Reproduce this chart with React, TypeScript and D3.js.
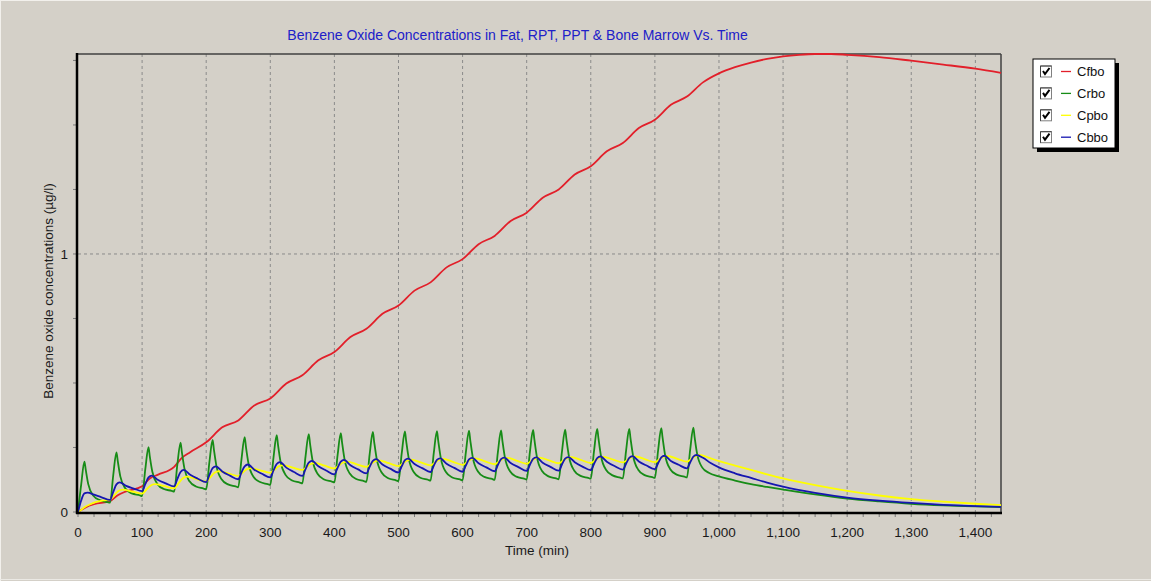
import React from "react";
import * as d3 from "d3";

const W = 1151;
const H = 581;

const TITLE = "Benzene Oxide Concentrations in Fat, RPT, PPT & Bone Marrow Vs. Time";
const X_LABEL = "Time (min)";
const Y_LABEL = "Benzene oxide concentrations (µg/l)";

const X_MAX = 1440;
const Y_MAX = 1.775;
const xLabelTicks = [0, 100, 200, 300, 400, 500, 600, 700, 800, 900, 1000, 1100, 1200, 1300, 1400];
const yLabelTicks = [0, 1];
const xMinorStep = 25;
const yMinorStep = 0.25;

type Pt = [number, number];

// Fat
const cfbo: Pt[] = [
  [0, 0], [12, 0.018], [25, 0.03], [50, 0.042], [62, 0.065], [75, 0.08], [100, 0.1], [112, 0.13],
  [125, 0.145], [150, 0.175], [162, 0.21], [175, 0.232], [200, 0.27], [225, 0.328], [250, 0.355],
  [275, 0.413], [300, 0.44], [325, 0.498], [350, 0.53], [375, 0.588], [400, 0.62], [425, 0.678],
  [450, 0.71], [475, 0.768], [500, 0.8], [525, 0.858], [550, 0.89], [575, 0.948], [600, 0.98],
  [625, 1.038], [650, 1.07], [675, 1.128], [700, 1.16], [725, 1.218], [750, 1.25], [775, 1.308],
  [800, 1.34], [825, 1.398], [850, 1.43], [875, 1.488], [900, 1.52], [925, 1.578], [950, 1.61],
  [975, 1.665], [1000, 1.7], [1025, 1.724], [1050, 1.742], [1075, 1.756], [1100, 1.766],
  [1125, 1.772], [1150, 1.775], [1175, 1.775], [1200, 1.772], [1250, 1.763], [1300, 1.749],
  [1350, 1.734], [1400, 1.718], [1440, 1.702],
];

// Richly perfused tissue
const crbo: Pt[] = [
  [0, 0], [5, 0.107], [10, 0.195], [12, 0.165], [16, 0.108], [24, 0.063], [34, 0.046], [46, 0.038],
  [50, 0.036], [55, 0.143], [60, 0.231], [62, 0.198], [66, 0.138], [74, 0.091], [84, 0.072], [96, 0.065],
  [100, 0.062], [105, 0.166], [110, 0.251], [112, 0.216], [116, 0.156], [124, 0.108], [134, 0.089], [146, 0.082],
  [150, 0.079], [155, 0.184], [160, 0.269], [162, 0.233], [166, 0.169], [174, 0.119], [184, 0.099], [196, 0.091],
  [200, 0.088], [205, 0.193], [210, 0.279], [212, 0.243], [216, 0.178], [224, 0.127], [234, 0.107], [246, 0.099],
  [250, 0.096], [255, 0.203], [260, 0.29], [262, 0.253], [266, 0.188], [274, 0.136], [284, 0.116], [296, 0.108],
  [300, 0.105], [305, 0.211], [310, 0.298], [312, 0.261], [316, 0.195], [324, 0.143], [334, 0.122], [346, 0.114],
  [350, 0.111], [355, 0.216], [360, 0.302], [362, 0.265], [366, 0.199], [374, 0.147], [384, 0.126], [396, 0.118],
  [400, 0.115], [405, 0.22], [410, 0.306], [412, 0.269], [416, 0.202], [424, 0.149], [434, 0.128], [446, 0.12],
  [450, 0.117], [455, 0.223], [460, 0.31], [462, 0.273], [466, 0.206], [474, 0.152], [484, 0.131], [496, 0.123],
  [500, 0.12], [505, 0.226], [510, 0.312], [512, 0.275], [516, 0.208], [524, 0.154], [534, 0.133], [546, 0.125],
  [550, 0.122], [555, 0.227], [560, 0.313], [562, 0.276], [566, 0.209], [574, 0.155], [584, 0.134], [596, 0.126],
  [600, 0.123], [605, 0.229], [610, 0.315], [612, 0.278], [616, 0.211], [624, 0.157], [634, 0.136], [646, 0.128],
  [650, 0.125], [655, 0.23], [660, 0.316], [662, 0.279], [666, 0.212], [674, 0.158], [684, 0.137], [696, 0.129],
  [700, 0.126], [705, 0.232], [710, 0.318], [712, 0.281], [716, 0.213], [724, 0.159], [734, 0.138], [746, 0.13],
  [750, 0.127], [755, 0.233], [760, 0.319], [762, 0.282], [766, 0.215], [774, 0.161], [784, 0.14], [796, 0.132],
  [800, 0.129], [805, 0.235], [810, 0.322], [812, 0.285], [816, 0.216], [824, 0.163], [834, 0.142], [846, 0.133],
  [850, 0.13], [855, 0.236], [860, 0.322], [862, 0.285], [866, 0.218], [874, 0.164], [884, 0.143], [896, 0.135],
  [900, 0.132], [905, 0.238], [910, 0.325], [912, 0.288], [916, 0.22], [924, 0.166], [934, 0.145], [946, 0.137],
  [950, 0.134], [955, 0.24], [960, 0.327], [962, 0.29], [966, 0.224], [974, 0.172], [984, 0.152], [1000, 0.138],
  [1025, 0.122], [1050, 0.108], [1075, 0.097], [1100, 0.087], [1150, 0.068], [1200, 0.052],
  [1250, 0.041], [1300, 0.032], [1350, 0.026], [1400, 0.022], [1440, 0.019],
];

// Poorly perfused tissue
const cpbo: Pt[] = [
  [0, 0], [5, 0.008], [10, 0.018], [20, 0.031], [30, 0.04], [40, 0.045],
  [50, 0.048], [57, 0.066], [63, 0.081], [70, 0.087], [85, 0.079],
  [100, 0.071], [107, 0.088], [113, 0.102], [120, 0.108], [135, 0.1],
  [150, 0.092], [157, 0.112], [163, 0.13], [170, 0.137], [185, 0.1275],
  [200, 0.118], [207, 0.136], [213, 0.152], [220, 0.158], [235, 0.149],
  [250, 0.14], [257, 0.153], [263, 0.165], [270, 0.169], [285, 0.1605],
  [300, 0.152], [307, 0.165], [313, 0.177], [320, 0.181], [335, 0.172],
  [350, 0.163], [357, 0.175], [363, 0.186], [370, 0.19], [385, 0.1795],
  [400, 0.169], [407, 0.181], [413, 0.191], [420, 0.195], [435, 0.185],
  [450, 0.175], [457, 0.186], [463, 0.196], [470, 0.2], [485, 0.189],
  [500, 0.178], [507, 0.189], [513, 0.199], [520, 0.203], [535, 0.192],
  [550, 0.181], [557, 0.192], [563, 0.202], [570, 0.206], [585, 0.1945],
  [600, 0.183], [607, 0.194], [613, 0.204], [620, 0.208], [635, 0.1965],
  [650, 0.185], [657, 0.196], [663, 0.206], [670, 0.21], [685, 0.1985],
  [700, 0.187], [707, 0.198], [713, 0.207], [720, 0.211], [735, 0.2],
  [750, 0.189], [757, 0.2], [763, 0.209], [770, 0.213], [785, 0.2015],
  [800, 0.19], [807, 0.201], [813, 0.21], [820, 0.214], [835, 0.203],
  [850, 0.192], [857, 0.202], [863, 0.212], [870, 0.215], [885, 0.204],
  [900, 0.193], [907, 0.204], [913, 0.213], [920, 0.217], [935, 0.206],
  [950, 0.195], [957, 0.206], [963, 0.216], [970, 0.221], [985, 0.21],
  [1000, 0.197], [1025, 0.18], [1050, 0.163], [1075, 0.146], [1100, 0.13], [1150, 0.104],
  [1200, 0.082], [1250, 0.064], [1300, 0.05], [1350, 0.04], [1400, 0.032], [1440, 0.027],
];

// Bone marrow
const cbbo: Pt[] = [
  [0, 0], [5, 0.045], [10, 0.072], [15, 0.075], [25, 0.067], [37, 0.057],
  [50, 0.047], [55, 0.078], [60, 0.107], [65, 0.115], [75, 0.101], [87, 0.091],
  [100, 0.081], [105, 0.108], [110, 0.134], [115, 0.141], [125, 0.124], [137, 0.111],
  [150, 0.099], [155, 0.128], [160, 0.155], [165, 0.163], [175, 0.144], [187, 0.129],
  [200, 0.116], [205, 0.143], [210, 0.17], [215, 0.177], [225, 0.157], [237, 0.141],
  [250, 0.127], [255, 0.153], [260, 0.177], [265, 0.184], [275, 0.164], [287, 0.148],
  [300, 0.134], [305, 0.161], [310, 0.186], [315, 0.193], [325, 0.172], [337, 0.155],
  [350, 0.14], [355, 0.166], [360, 0.191], [365, 0.198], [375, 0.177], [387, 0.161],
  [400, 0.146], [405, 0.171], [410, 0.195], [415, 0.202], [425, 0.181], [437, 0.165],
  [450, 0.15], [455, 0.175], [460, 0.198], [465, 0.205], [475, 0.184], [487, 0.168],
  [500, 0.153], [505, 0.177], [510, 0.201], [515, 0.207], [525, 0.186], [537, 0.17],
  [550, 0.155], [555, 0.179], [560, 0.202], [565, 0.208], [575, 0.187], [587, 0.171],
  [600, 0.156], [605, 0.18], [610, 0.204], [615, 0.21], [625, 0.189], [637, 0.173],
  [650, 0.158], [655, 0.182], [660, 0.205], [665, 0.211], [675, 0.19], [687, 0.174],
  [700, 0.159], [705, 0.183], [710, 0.206], [715, 0.212], [725, 0.191], [737, 0.175],
  [750, 0.16], [755, 0.184], [760, 0.207], [765, 0.213], [775, 0.193], [787, 0.176],
  [800, 0.162], [805, 0.186], [810, 0.209], [815, 0.215], [825, 0.195], [837, 0.178],
  [850, 0.164], [855, 0.187], [860, 0.21], [865, 0.216], [875, 0.196], [887, 0.18],
  [900, 0.166], [905, 0.189], [910, 0.212], [915, 0.218], [925, 0.198], [937, 0.183],
  [950, 0.169], [955, 0.192], [960, 0.215], [965, 0.221], [975, 0.21], [987, 0.19],
  [1000, 0.173], [1025, 0.15], [1050, 0.132], [1075, 0.114], [1100, 0.098], [1150, 0.074],
  [1200, 0.056], [1250, 0.044], [1300, 0.035], [1350, 0.028], [1400, 0.023], [1440, 0.02],
];

const seriesNames = ["Cfbo", "Crbo", "Cpbo", "Cbbo"];
const seriesData = [cfbo, crbo, cpbo, cbbo];
const seriesColors = ["#e21f2a", "#178c17", "#ffff00", "#1616b0"];

const FONT = "'Liberation Sans', Arial, Helvetica, sans-serif";
const BG = "#d4d0c8";

const plot = { left: 78, right: 1001, top: 54, bottom: 512 };

export default function App() {
  const x = d3.scaleLinear().domain([0, X_MAX]).range([plot.left, plot.right]);
  const y = d3.scaleLinear().domain([0, Y_MAX]).range([plot.bottom, plot.top]);

  const line = d3
    .line<Pt>()
    .x((d) => x(d[0]))
    .y((d) => y(d[1]))
    .curve(d3.curveMonotoneX);

  const fmt = d3.format(",");
  const xMinor = d3.range(0, X_MAX + 0.001, xMinorStep);
  const yMinor = d3.range(0, Y_MAX, yMinorStep);

  const legend = { x: 1033, y: 59, w: 82, h: 89, row0: 71.5, rowStep: 21.9 };

  return (
    <svg
      width={W}
      height={H}
      viewBox={`0 0 ${W} ${H}`}
      style={{ position: "absolute", left: 0, top: 0, display: "block" }}
      fontFamily={FONT}
    >
      <defs>
        <clipPath id="plot-clip">
          <rect x={plot.left} y={plot.top - 2} width={plot.right - plot.left + 1} height={plot.bottom - plot.top + 2} />
        </clipPath>
      </defs>

      <rect x={0} y={0} width={W} height={H} fill={BG} />
      <line x1={0} y1={0.5} x2={W} y2={0.5} stroke="#f2f0ec" />
      <line x1={0.5} y1={0} x2={0.5} y2={H} stroke="#f2f0ec" />
      <line x1={0} y1={H - 1.5} x2={W} y2={H - 1.5} stroke="#ebe9e4" />

      {/* title */}
      <text x={517.5} y={40} textAnchor="middle" fontSize={14} fill="#2020c8">
        {TITLE}
      </text>

      {/* vertical grid */}
      {xLabelTicks
        .filter((t) => t > 0)
        .map((t) => (
          <line
            key={`gx${t}`}
            x1={x(t)}
            x2={x(t)}
            y1={plot.top}
            y2={plot.bottom}
            stroke="#8a8a8a"
            strokeWidth={1}
            strokeDasharray="3,3"
          />
        ))}
      {/* horizontal grid */}
      {yLabelTicks
        .filter((t) => t > 0)
        .map((t) => (
          <line
            key={`gy${t}`}
            x1={plot.left}
            x2={plot.right}
            y1={y(t)}
            y2={y(t)}
            stroke="#8a8a8a"
            strokeWidth={1}
            strokeDasharray="3,3"
          />
        ))}

      {/* frame */}
      <line x1={plot.left} x2={plot.right} y1={plot.top} y2={plot.top} stroke="#404040" strokeWidth={1.5} />
      <line x1={plot.right} x2={plot.right} y1={plot.top} y2={plot.bottom} stroke="#404040" strokeWidth={1.5} />

      {/* minor ticks */}
      {xMinor.map((t) => (
        <line key={`tx${t}`} x1={x(t)} x2={x(t)} y1={plot.bottom + 1} y2={plot.bottom + 5} stroke="#7a7a7a" />
      ))}
      {yMinor.map((t) => (
        <line key={`ty${t}`} x1={plot.left - 5} x2={plot.left - 1} y1={y(t)} y2={y(t)} stroke="#7a7a7a" />
      ))}

      {/* series */}
      <g clipPath="url(#plot-clip)">
        {seriesData.map((data, i) => (
          <path
            key={seriesNames[i]}
            d={line(data) || ""}
            fill="none"
            stroke={seriesColors[i]}
            strokeWidth={1.8}
            strokeLinejoin="round"
          />
        ))}
      </g>

      {/* axes */}
      <line x1={plot.left - 1} x2={plot.left - 1} y1={plot.top - 1} y2={plot.bottom + 2} stroke="#000" strokeWidth={2.5} />
      <line x1={plot.left - 2} x2={plot.right + 1} y1={plot.bottom + 1} y2={plot.bottom + 1} stroke="#000" strokeWidth={2.5} />

      {/* tick labels */}
      {xLabelTicks.map((t) => (
        <text key={`lx${t}`} x={x(t)} y={537} textAnchor="middle" fontSize={13.5} fill="#1a1a1a">
          {fmt(t)}
        </text>
      ))}
      {yLabelTicks.map((t) => (
        <text key={`ly${t}`} x={68} y={y(t) + 5} textAnchor="end" fontSize={13.5} fill="#1a1a1a">
          {fmt(t)}
        </text>
      ))}

      {/* axis titles */}
      <text x={537} y={555} textAnchor="middle" fontSize={13.5} fill="#1a1a1a">
        {X_LABEL}
      </text>
      <text
        transform={`translate(52.5, 291) rotate(-90)`}
        textAnchor="middle"
        fontSize={13.5}
        fill="#1a1a1a"
      >
        {Y_LABEL}
      </text>

      {/* legend */}
      <rect x={legend.x + 4} y={legend.y + 4} width={legend.w} height={legend.h} fill="#000" />
      <rect x={legend.x} y={legend.y} width={legend.w} height={legend.h} fill="#fff" stroke="#000" strokeWidth={1} />
      {seriesNames.map((name, i) => {
        const cy = legend.row0 + i * legend.rowStep;
        const bx = 1040;
        return (
          <g key={`lg${name}`}>
            <rect x={bx + 0.5} y={cy - 5.5} width={11} height={11} fill="#fff" stroke="#808080" />
            <path d={`M${bx + 0.5},${cy + 5.5} V${cy - 5.5} H${bx + 11.5}`} fill="none" stroke="#404040" />
            <path
              d={`M${bx + 3},${cy - 0.5} L${bx + 5},${cy + 2.5} L${bx + 9.5},${cy - 3.5}`}
              fill="none"
              stroke="#000"
              strokeWidth={2}
            />
            <line x1={1061} x2={1071} y1={cy} y2={cy} stroke={seriesColors[i]} strokeWidth={1.3} />
            <text x={1077} y={cy + 4.8} fontSize={13} fill="#111">
              {name}
            </text>
          </g>
        );
      })}
    </svg>
  );
}
